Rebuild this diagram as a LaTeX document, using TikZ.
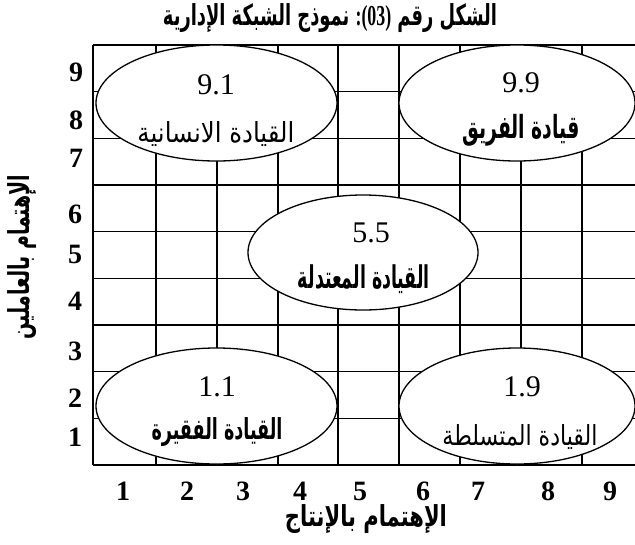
\documentclass[tikz,border=0pt]{standalone}
\usepackage{fontspec}
\usepackage{graphicx}
\setmainfont{Liberation Serif}
\newfontfamily\arfont[Script=Arabic]{DejaVu Sans}
\TeXXeTstate=1
\usetikzlibrary{shapes.geometric}
\newcommand{\arw}[3]{\resizebox*{#1pt}{#2pt}{\arfont #3}}
\newcommand{\arwb}[3]{\resizebox*{#1pt}{#2pt}{\arfont\bfseries #3}}
\tikzset{
  gridline/.style={line width=1.4pt, black},
  oval/.style={ellipse, draw, line width=1.3pt, fill=white, inner sep=0pt},
  axnum/.style={font=\fontsize{28}{30}\selectfont\bfseries, inner sep=0pt},
  ovnum/.style={font=\fontsize{30}{32}\selectfont, inner sep=0pt},
  lbl/.style={inner sep=0pt}
}
\begin{document}
\begin{tikzpicture}[x=1pt,y=-1pt]
\useasboundingbox (0,0) rectangle (635,544);
% grid
\foreach \xx in {93,156,217,278,338,399,460,521,582}
  \draw[gridline] (\xx,45) -- (\xx,465);
\foreach \k in {0,...,9}
  \draw[gridline] (93,{45+\k*46.667}) -- (635,{45+\k*46.667});
% ovals
\node[oval, minimum width=241pt, minimum height=116pt] (e91) at (216.5,103) {};
\node[oval, minimum width=236pt, minimum height=116pt] (e99) at (517,103) {};
\node[oval, minimum width=230pt, minimum height=115pt] (e55) at (363,252.5) {};
\node[oval, minimum width=241pt, minimum height=116pt] (e11) at (216.5,406) {};
\node[oval, minimum width=236pt, minimum height=116pt] (e19) at (517,406) {};
% oval texts
\node[ovnum] (n91) at (216,85) {9.1};
\node[lbl] (l91) at (216,134) {\arw{157}{25}{\beginR القيادة الانسانية\endR}};
\node[ovnum] (n99) at (521,83) {9.9};
\node[lbl] (l99) at (521,130) {\arwb{117}{32}{\beginR قيادة الفريق\endR}};
\node[ovnum] (n55) at (371,233) {5.5};
\node[lbl] (l55) at (364,279) {\arwb{132}{29}{\beginR القيادة المعتدلة\endR}};
\node[ovnum] (n11) at (217,387) {1.1};
\node[lbl] (l11) at (217,432) {\arwb{131}{29}{\beginR القيادة الفقيرة\endR}};
\node[ovnum] (n19) at (522,387) {1.9};
\node[lbl] (l19) at (520,437) {\arw{155}{25}{\beginR القيادة المتسلطة\endR}};
% left axis numbers
\node[axnum] (y9) at (76,72) {9};
\node[axnum] (y8) at (76,120) {8};
\node[axnum] (y7) at (76,158) {7};
\node[axnum] (y6) at (75,214) {6};
\node[axnum] (y5) at (75,254) {5};
\node[axnum] (y4) at (75,301) {4};
\node[axnum] (y3) at (75,351) {3};
\node[axnum] (y2) at (75,398) {2};
\node[axnum] (y1) at (75,437) {1};
% bottom axis numbers
\node[axnum] (x1) at (123,491) {1};
\node[axnum] (x2) at (187,491) {2};
\node[axnum] (x3) at (243,491) {3};
\node[axnum] (x4) at (300,491) {4};
\node[axnum] (x5) at (360,491) {5};
\node[axnum] (x6) at (423,491) {6};
\node[axnum] (x7) at (478,491) {7};
\node[axnum] (x8) at (548,491) {8};
\node[axnum] (x9) at (610,491) {9};
% axis titles
\node[lbl] (xt) at (366,519) {\arwb{162}{29}{\beginR الإهتمام بالإنتاج\endR}};
\node[lbl, rotate=90] (yt) at (22,257) {\arwb{165}{29}{\beginR الإهتمام بالعاملين\endR}};
% title
\node[lbl] (title) at (330,18) {\resizebox*{334pt}{29pt}{\arfont\bfseries \beginR نموذج الشبكة الإدارية\endR\ {\rmfamily\bfseries :(03)}\ \beginR الشكل رقم\endR}};
\end{tikzpicture}
\end{document}
